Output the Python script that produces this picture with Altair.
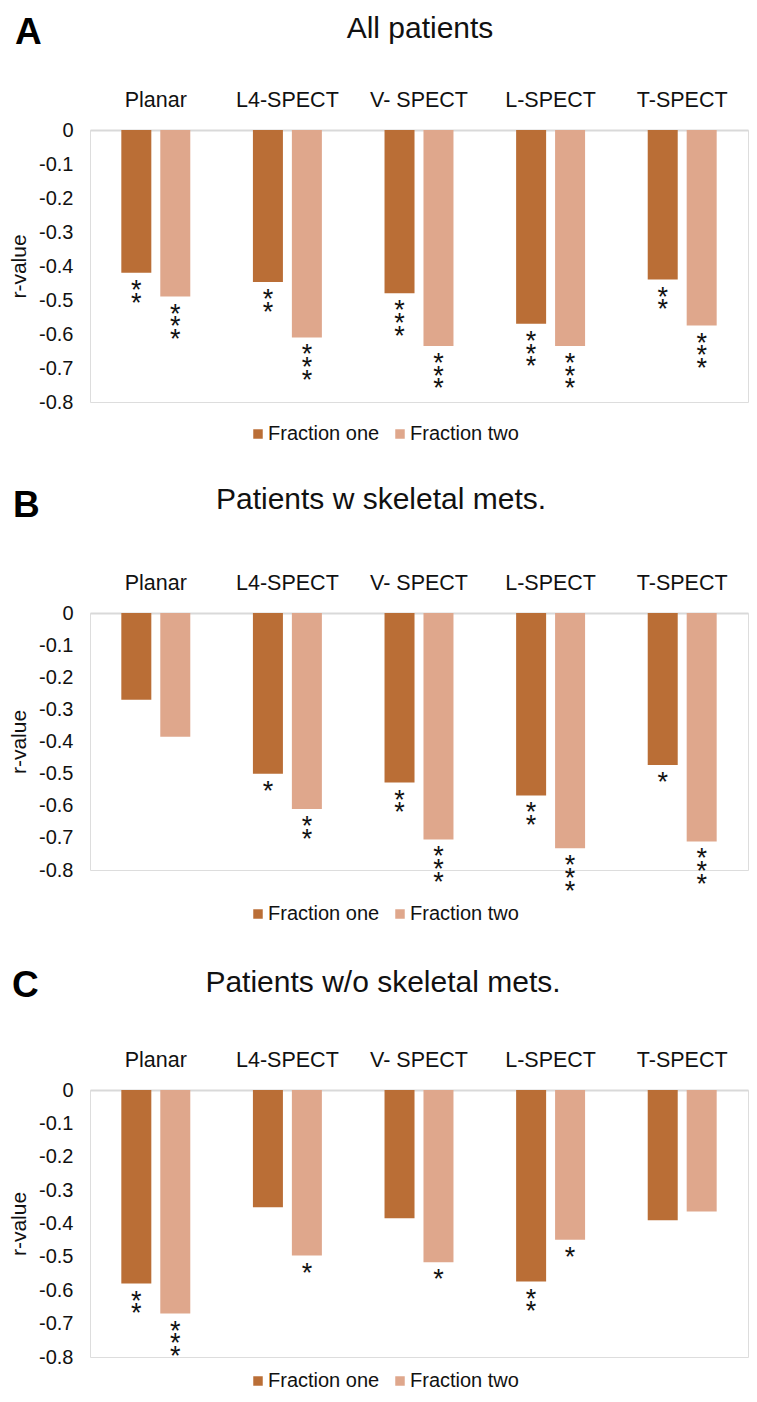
import altair as alt
import pandas as pd

# ---------------- data ----------------
categories = ["Planar", "L4-SPECT", "V- SPECT", "L-SPECT", "T-SPECT"]
series = ["Fraction one", "Fraction two"]
colors = ["#BA6E36", "#DFA78C"]

letters = ["A", "B", "C"]
titles = ["All patients", "Patients w skeletal mets.", "Patients w/o skeletal mets."]

a_one = [-0.42, -0.447, -0.48, -0.57, -0.44]
a_two = [-0.49, -0.61, -0.635, -0.635, -0.575]
a_stars_one = ["**", "**", "***", "***", "**"]
a_stars_two = ["***", "***", "***", "***", "***"]

b_one = [-0.27, -0.50, -0.528, -0.568, -0.473]
b_two = [-0.385, -0.61, -0.705, -0.732, -0.711]
b_stars_one = ["", "*", "**", "**", "*"]
b_stars_two = ["", "**", "***", "***", "***"]

c_one = [-0.58, -0.351, -0.384, -0.574, -0.39]
c_two = [-0.67, -0.496, -0.516, -0.449, -0.364]
c_stars_one = ["**", "", "", "**", ""]
c_stars_two = ["***", "*", "*", "*", ""]

y_ticks = [0, -0.1, -0.2, -0.3, -0.4, -0.5, -0.6, -0.7, -0.8]

FONT = "Liberation Sans"
TXT = "#111111"
W = 658


def panel(letter, title, one, two, s_one, s_two, height,
          title_x, title_y, letter_x, letter_y, legend_y):
    rows = []
    for c, v, s in zip(categories, one, s_one):
        rows.append({"cat": c, "series": series[0], "value": v, "stars": "\n".join(list(s))})
    for c, v, s in zip(categories, two, s_two):
        rows.append({"cat": c, "series": series[1], "value": v, "stars": "\n".join(list(s))})
    df = pd.DataFrame(rows)

    x = alt.X(
        "cat:N", sort=categories,
        scale=alt.Scale(paddingInner=0.476, paddingOuter=0.238),
        axis=alt.Axis(orient="top", title=None, labelAngle=0, labelFontSize=21.5,
                      labelPadding=18.5, ticks=False, tickSize=0, domainColor="#D9D9D9",
                      domainWidth=2, labelColor=TXT, labelFont=FONT),
    )
    xo = alt.XOffset("series:N", sort=series,
                     scale=alt.Scale(paddingInner=0.23, paddingOuter=0))
    y = alt.Y(
        "value:Q",
        scale=alt.Scale(domain=[-0.8, 0], nice=False, zero=True),
        axis=alt.Axis(values=y_ticks, grid=False, domain=False, ticks=False, tickSize=0,
                      labelExpr="datum.value == 0 ? '0' : '-0.' + toString(round(abs(datum.value) * 10))",
                      labelFontSize=20, labelPadding=17, labelColor=TXT, labelFont=FONT,
                      title="r-value", titleFontSize=21, titleFontWeight="normal",
                      titleColor=TXT, titleFont=FONT, titlePadding=9),
    )
    color = alt.Color(
        "series:N", sort=series,
        scale=alt.Scale(domain=series, range=colors),
        legend=alt.Legend(orient="none", legendX=158, legendY=legend_y,
                          direction="horizontal", title=None, symbolType="square",
                          symbolSize=90, symbolStrokeWidth=0, labelFontSize=20,
                          labelOffset=0, columnPadding=10, labelFont=FONT,
                          labelColor=TXT),
    )

    bars = alt.Chart(df).mark_bar().encode(x=x, xOffset=xo, y=y, color=color)
    stars = alt.Chart(df).mark_text(
        baseline="top", dy=5, fontSize=27, lineHeight=12.7, lineBreak="\n",
        font=FONT, color=TXT,
    ).encode(x=x, xOffset=xo, y=y, text="stars:N")

    ttl = alt.Chart(pd.DataFrame({"t": [title]})).mark_text(
        align="center", baseline="alphabetic", fontSize=30, font=FONT, color=TXT,
    ).encode(x=alt.value(title_x), y=alt.value(title_y), text="t:N")
    let = alt.Chart(pd.DataFrame({"t": [letter]})).mark_text(
        align="left", baseline="alphabetic", fontSize=37, fontWeight="bold",
        font=FONT, color="#000000",
    ).encode(x=alt.value(letter_x), y=alt.value(letter_y), text="t:N")

    return alt.layer(bars, stars, ttl, let).properties(width=W, height=height)


pA = panel(letters[0], titles[0], a_one, a_two, a_stars_one, a_stars_two, 272,
           330, -92, -75, -86, 294)
pB = panel(letters[1], titles[1], b_one, b_two, b_stars_one, b_stars_two, 257,
           291, -104.5, -77, -96, 291)
pC = panel(letters[2], titles[2], c_one, c_two, c_stars_one, c_stars_two, 267,
           293, -98.5, -78, -93, 281)

top = alt.vconcat(pA, pB, spacing=39).resolve_legend(color="independent")
chart = alt.vconcat(top, pC, spacing=41).resolve_legend(color="independent").properties(
    padding={"top": 5, "left": 0, "right": 0, "bottom": 0}
).configure_view(stroke=None).configure(background="white")

chart.save("out.html", embed_options={"renderer": "svg", "actions": False})
